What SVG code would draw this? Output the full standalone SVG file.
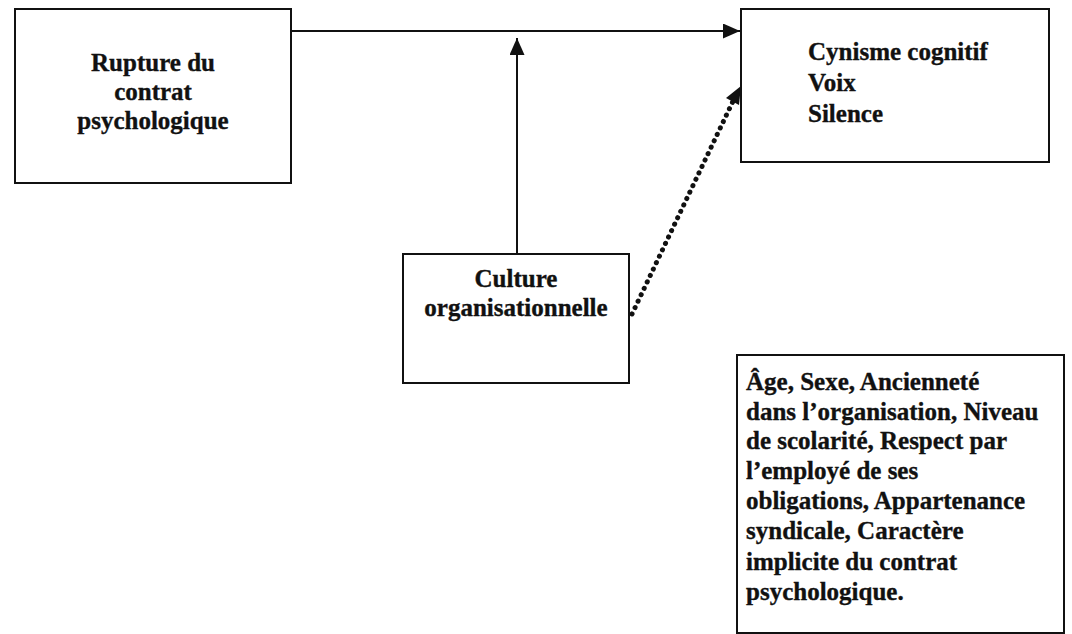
<svg xmlns="http://www.w3.org/2000/svg" width="1072" height="634" viewBox="0 0 1072 634">
  <style>
    .box { fill: #ffffff; stroke: #111111; stroke-width: 2; }
    .lbl { font-family: "Liberation Serif", "Times New Roman", serif; font-weight: bold; font-size: 25px; fill: #111111; stroke: #111111; stroke-width: 0.35; }
    .mid { text-anchor: middle; }
    .solid { fill: none; stroke: #111111; stroke-width: 2; }
    .dotted { fill: none; stroke: #111111; stroke-width: 5; stroke-linecap: round; stroke-dasharray: 0.1 7; }
  </style>
  <defs>
    <marker id="head" viewBox="0 0 17 15" refX="17" refY="7.5" markerWidth="17" markerHeight="15" markerUnits="userSpaceOnUse" orient="auto">
      <path d="M0,0 L17,7.5 L0,15 Z" fill="#111111"/>
    </marker>
  </defs>
  <rect width="1072" height="634" fill="#ffffff"/>

  <g id="connectors">
    <!-- rupture -> outcomes -->
    <line class="solid" x1="291" y1="31" x2="740" y2="31" marker-end="url(#head)"/>
    <!-- culture moderates the main link -->
    <line class="solid" x1="517" y1="254" x2="517" y2="38" stroke-width="3" marker-end="url(#head)"/>
    <!-- culture -> outcomes (dotted) -->
    <line class="dotted" x1="632" y1="314" x2="734" y2="99"/>
    <path d="M741,86 L739,105 L726,98 Z" fill="#111111"/>
  </g>

  <g id="rupture">
    <rect class="box" x="15" y="9" width="276" height="174"/>
    <text class="lbl mid" x="153" y="71">Rupture du</text>
    <text class="lbl mid" x="153" y="100">contrat</text>
    <text class="lbl mid" x="153" y="129">psychologique</text>
  </g>

  <g id="outcomes">
    <rect class="box" x="741" y="9" width="308" height="153"/>
    <text class="lbl" x="808" y="60">Cynisme cognitif</text>
    <text class="lbl" x="808" y="91">Voix</text>
    <text class="lbl" x="808" y="122">Silence</text>
  </g>

  <g id="culture">
    <rect class="box" x="403" y="254" width="226" height="129"/>
    <text class="lbl mid" x="516" y="287">Culture</text>
    <text class="lbl mid" x="516" y="316">organisationnelle</text>
  </g>

  <g id="controls">
    <rect class="box" x="737" y="355" width="327" height="278"/>
    <text class="lbl" x="746" y="390">Âge, Sexe, Ancienneté</text>
    <text class="lbl" x="746" y="420">dans l’organisation, Niveau</text>
    <text class="lbl" x="746" y="449">de scolarité, Respect par</text>
    <text class="lbl" x="746" y="479">l’employé de ses</text>
    <text class="lbl" x="746" y="509">obligations, Appartenance</text>
    <text class="lbl" x="746" y="539">syndicale, Caractère</text>
    <text class="lbl" x="746" y="570">implicite du contrat</text>
    <text class="lbl" x="746" y="600">psychologique.</text>
  </g>
</svg>
